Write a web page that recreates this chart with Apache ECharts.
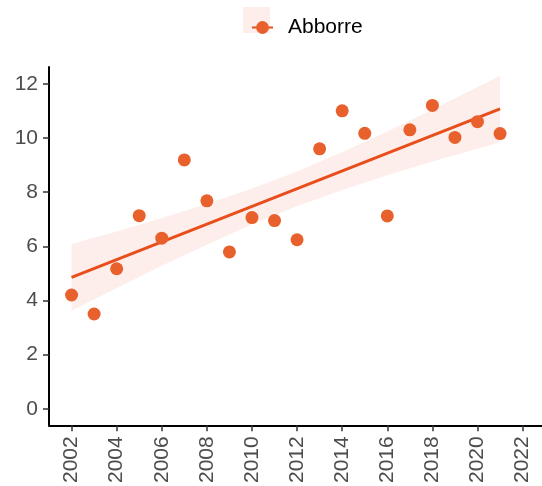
<!DOCTYPE html>
<html>
<head>
<meta charset="utf-8">
<script src="https://cdn.jsdelivr.net/npm/echarts@6/dist/echarts.min.js"></script>
<style>html,body{margin:0;padding:0;background:#fff}#c{width:542px;height:486px}</style>
</head>
<body>
<div id="c"></div>
<script>
const years = [2002,2003,2004,2005,2006,2007,2008,2009,2010,2011,2012,2013,2014,2015,2016,2017,2018,2019,2020,2021];
const values = [4.20,3.50,5.17,7.13,6.30,9.19,7.68,5.79,7.06,6.95,6.24,9.60,11.00,10.17,7.12,10.30,11.20,10.02,10.60,10.16];
const fitYears = [2002, 2021];
const fitValues = [4.85, 11.07];
const bandYears = [2002,2004,2006,2008,2010,2012,2014,2016,2018,2020,2021];
const bandLower = [3.62,4.45,5.28,6.06,6.81,7.48,8.08,8.62,9.13,9.60,9.84];
const bandUpper = [6.08,6.55,7.04,7.56,8.13,8.76,9.48,10.24,11.05,11.88,12.30];
const xTicks = [2002,2004,2006,2008,2010,2012,2014,2016,2018,2020,2022];
const yTicks = [0,2,4,6,8,10,12];
const seriesName = 'Abborre';

const FONT = 'Liberation Sans, Arial, sans-serif';
const chart = echarts.init(document.getElementById('c'));
chart.setOption({
  animation: false,
  backgroundColor: '#fff',
  graphic: [{type:'rect', shape:{x:243, y:7, width:27, height:26}, style:{fill:'#FDEEEB'}, z:-1}],
  legend: {
    left: 246, top: 12, itemWidth: 21, itemHeight: 16,
    data: [seriesName],
    textStyle: {fontFamily: FONT, fontSize: 21, color: '#000', padding: [0,0,0,10]}
  },
  grid: {left: 49, right: 0, top: 67, bottom: 59, containLabel: false},
  xAxis: {
    type: 'value', min: 2001.0, max: 2022.86,
    splitLine: {show: false},
    axisLine: {onZero: false, lineStyle: {color: '#000', width: 2}},
    axisTick: {customValues: xTicks, length: 6, lineStyle: {color: '#333', width: 1.5}},
    axisLabel: {customValues: xTicks, rotate: 90, margin: 11, fontFamily: FONT, fontSize: 21, color: '#4D4D4D',
      formatter: v => String(v)}
  },
  yAxis: {
    type: 'value', min: -0.61, max: 12.62,
    splitLine: {show: false},
    axisLine: {show: true, onZero: false, lineStyle: {color: '#000', width: 2}},
    axisTick: {show: true, customValues: yTicks, length: 6, lineStyle: {color: '#333', width: 1.5}},
    axisLabel: {customValues: yTicks, margin: 11, fontFamily: FONT, fontSize: 21, color: '#4D4D4D',
      formatter: v => String(v)}
  },
  series: [
    {
      type: 'custom', name: 'band', silent: true, z: 1,
      data: bandYears.map((y,i)=>[y, bandLower[i], bandUpper[i]]),
      encode: {x: 0, y: [1, 2]},
      renderItem: function(params, api) {
        if (params.dataIndex !== 0) return null;
        const pts = [];
        for (let i = 0; i < bandYears.length; i++) pts.push(api.coord([bandYears[i], bandUpper[i]]));
        for (let i = bandYears.length - 1; i >= 0; i--) pts.push(api.coord([bandYears[i], bandLower[i]]));
        return {type: 'polygon', shape: {points: pts}, style: {fill: '#FDEEEB'}};
      }
    },
    {
      type: 'line', name: seriesName, z: 2,
      data: fitYears.map((y,i)=>[y, fitValues[i]]),
      showSymbol: false, symbol: 'circle', symbolSize: 13,
      itemStyle: {color: '#E8602C'},
      lineStyle: {color: '#E84E1B', width: 3}
    },
    {
      type: 'scatter', name: 'points', z: 3,
      data: years.map((y,i)=>[y, values[i]]),
      symbolSize: 13,
      itemStyle: {color: '#E8602C', opacity: 1}
    }
  ]
});
</script>
</body>
</html>
